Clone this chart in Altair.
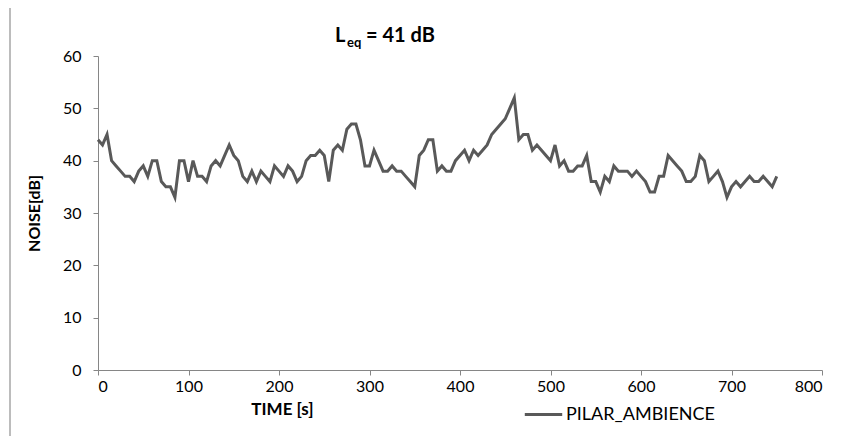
import altair as alt
import pandas as pd

time_s = list(range(0, 755, 5))
noise_db = [44, 43, 45, 40, 39, 38, 37, 37, 36, 38, 39, 37, 40, 40, 36, 35, 35, 33, 40, 40,
            36, 40, 37, 37, 36, 39, 40, 39, 41, 43, 41, 40, 37, 36, 38, 36, 38, 37, 36, 39,
            38, 37, 39, 38, 36, 37, 40, 41, 41, 42, 41, 36, 42, 43, 42, 46, 47, 47, 44, 39,
            39, 42, 40, 38, 38, 39, 38, 38, 37, 36, 35, 41, 42, 44, 44, 38, 39, 38, 38, 40,
            41, 42, 40, 42, 41, 42, 43, 45, 46, 47, 48, 50, 52, 44, 45, 45, 42, 43, 42, 41,
            40, 43, 39, 40, 38, 38, 39, 39, 41, 36, 36, 34, 37, 36, 39, 38, 38, 38, 37, 38,
            37, 36, 34, 34, 37, 37, 41, 40, 39, 38, 36, 36, 37, 41, 40, 36, 37, 38, 36, 33,
            35, 36, 35, 36, 37, 36, 36, 37, 36, 35, 37]
series_name = "PILAR_AMBIENCE"

df = pd.DataFrame({"t": time_s, "db": noise_db[:len(time_s)], "series": series_name})

FONT = "Lato"
GRAY = "#868686"

line = alt.Chart(df).mark_line(strokeWidth=3, color="#595959").encode(
    x=alt.X("t:Q", scale=alt.Scale(domain=[0, 800], nice=False),
            axis=alt.Axis(values=list(range(0, 801, 100)), grid=False, title="TIME [s]",
                          titleX=184, titleY=31, titleAnchor="middle", titleAlign="center",
                          titleFontWeight="bold", titleFontSize=17, titleFont=FONT,
                          labelFont=FONT, labelFontSize=16, labelColor="#000000", labelPadding=3,
                          domainColor=GRAY, tickColor=GRAY, tickSize=5)),
    y=alt.Y("db:Q", scale=alt.Scale(domain=[0, 60], nice=False),
            axis=alt.Axis(values=list(range(0, 61, 10)), grid=False, title="NOISE[dB]",
                          titleFontWeight="bold", titleFontSize=16, titleFont=FONT,
                          titlePadding=20, labelFont=FONT, labelFontSize=16, labelColor="#000000",
                          labelPadding=12, domainColor=GRAY, tickColor=GRAY, tickSize=5)),
    stroke=alt.Stroke("series:N", scale=alt.Scale(range=["#595959"]),
                      legend=alt.Legend(title=None, orient="none", legendX=425, legendY=338,
                                        symbolType="stroke", symbolStrokeWidth=3, symbolSize=1400,
                                        labelFont=FONT, labelFontSize=18, labelColor="#000000",
                                        labelOffset=2)),
)

title_df = pd.DataFrame({"a": [0]})
t_L = alt.Chart(title_df).mark_text(text="L", font=FONT, fontSize=20, fontWeight="bold",
                                    align="left", baseline="alphabetic", color="#000000").encode(
    x=alt.value(237), y=alt.value(-14))
t_eq = alt.Chart(title_df).mark_text(text="eq", font=FONT, fontSize=13, fontWeight="bold",
                                     align="left", baseline="alphabetic", color="#000000").encode(
    x=alt.value(249), y=alt.value(-9))
t_rest = alt.Chart(title_df).mark_text(text="= 41 dB", font=FONT, fontSize=20, fontWeight="bold",
                                       align="left", baseline="alphabetic", color="#000000").encode(
    x=alt.value(268), y=alt.value(-14))
border = alt.Chart(title_df).mark_rule(color="#a6a6a6", strokeWidth=1.5).encode(
    x=alt.value(-88), y=alt.value(-56), y2=alt.value(390))

chart = alt.layer(line, t_L, t_eq, t_rest, border).properties(
    width=724, height=314,
    autosize=alt.AutoSizeParams(type="none"),
    padding={"left": 90, "top": 48, "right": 11, "bottom": 66},
).configure_view(stroke=None)

chart.save("out.html", embed_options={"renderer": "svg", "actions": False})
